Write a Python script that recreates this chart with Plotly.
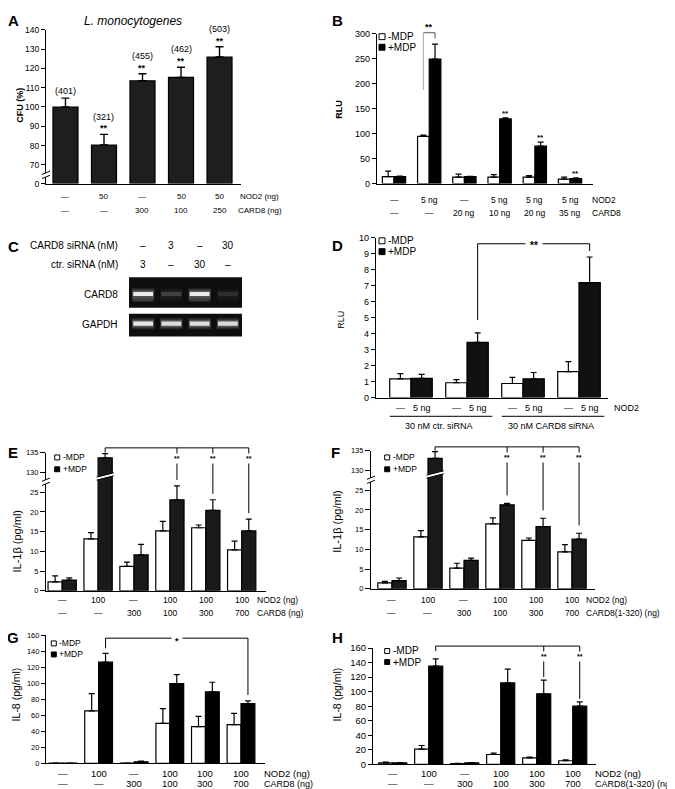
import plotly.graph_objects as go

# ===================== DATA =====================
# Panel A - L. monocytogenes CFU (%)
A_cfu = [100.0, 80.3, 113.6, 115.3, 125.9]
A_cfu_err = [4.6, 5.5, 3.6, 5.3, 5.3]
A_counts = ["(401)", "(321)", "(455)", "(462)", "(503)"]
A_sig = ["", "**", "**", "**", "**"]
A_nod2 = ["—", "50", "—", "50", "50"]
A_card8 = ["—", "—", "300", "100", "250"]
A_ticks = [0, 70, 80, 90, 100, 110, 120, 130, 140]

# Panel B - NF-kB reporter (RLU)
B_minus = [14, 94.7, 13, 13, 13, 9]
B_minus_err = [11, 2.5, 6, 5, 3, 4]
B_plus = [14, 249, 14, 129.5, 75, 10]
B_plus_err = [1, 30, 0.5, 2, 8, 1.5]
B_sig = ["", "", "", "**", "**", "**"]
B_nod2 = ["—", "5 ng", "—", "5 ng", "5 ng", "5 ng"]
B_card8 = ["—", "—", "20 ng", "10 ng", "20 ng", "35 ng"]
B_ticks = [0, 50, 100, 150, 200, 250, 300]

# Panel C - RT-PCR gel
C_card8_sirna = ["–", "3", "–", "30"]
C_ctr_sirna = ["3", "–", "30", "–"]
C_card8_band = [0.95, 0.22, 0.95, 0.14]
C_card8_lower = [0.35, 0.06, 0.32, 0.05]
C_gapdh_band = [0.92, 0.88, 0.9, 0.88]

# Panel D - RLU with siRNA
D_minus = [1.17, 0.93, 0.88, 1.63]
D_minus_err = [0.33, 0.19, 0.39, 0.62]
D_plus = [1.2, 3.45, 1.18, 7.2]
D_plus_err = [0.25, 0.6, 0.39, 1.6]
D_nod2 = ["—", "5 ng", "—", "5 ng", "—", "5 ng", "—", "5 ng"]
D_sirna = ["30 nM ctr. siRNA", "30 nM CARD8 siRNA"]
D_ticks = [0, 1, 2, 3, 4, 5, 6, 7, 8, 9, 10]

# Panel E - IL-1b, CARD8
E_minus = [2.25, 13.2, 6.2, 15.2, 16.0, 10.4]
E_minus_err = [1.55, 1.55, 1.1, 2.4, 0.7, 2.2]
E_plus = [2.75, 133.75, 9.1, 23.1, 20.4, 15.2]
E_plus_err = [0.55, 1.05, 2.7, 3.5, 2.7, 3.0]
E_nod2 = ["—", "100", "—", "100", "100", "100"]
E_card8 = ["—", "—", "300", "100", "300", "700"]

# Panel F - IL-1b, CARD8(1-320)
F_minus = [1.5, 13.2, 5.25, 16.5, 12.3, 9.4]
F_minus_err = [0.4, 1.55, 1.25, 1.5, 0.6, 1.8]
F_plus = [2.1, 133.1, 7.2, 21.3, 15.8, 12.6]
F_plus_err = [0.65, 1.7, 0.6, 0.4, 2.1, 1.5]
F_nod2 = ["—", "100", "—", "100", "100", "100"]
F_card8 = ["—", "—", "300", "100", "300", "700"]
IL1_ticks = [0, 5, 10, 15, 20, 25, 130, 135]

# Panel G - IL-8, CARD8
G_minus = [0.3, 65.6, 0.5, 50, 46, 48.4]
G_minus_err = [0, 21.4, 0, 18.5, 12.7, 14]
G_plus = [0.3, 126.4, 2, 99.7, 89.4, 74.7]
G_plus_err = [0, 11, 1, 11.1, 11.9, 3.3]
G_nod2 = ["—", "100", "—", "100", "100", "100"]
G_card8 = ["—", "—", "300", "100", "300", "700"]

# Panel H - IL-8, CARD8(1-320)
H_minus = [2, 21, 1, 13.6, 9, 5]
H_minus_err = [1, 5, 0.5, 2, 1, 1.2]
H_plus = [2, 135, 2, 112, 97, 80]
H_plus_err = [0.5, 10, 0.5, 19, 19, 6]
H_nod2 = ["—", "100", "—", "100", "100", "100"]
H_card8 = ["—", "—", "300", "100", "300", "700"]
IL8_ticks = [0, 20, 40, 60, 80, 100, 120, 140, 160]

# ===================== HELPERS =====================
W, H = 675, 789
FONT = "Liberation Sans, Arial, Helvetica, sans-serif"

fig = go.Figure()
layout_axes = {}
shapes = []
annots = []


def fx(x):
    return x / W


def fy(y):
    return 1 - y / H


class Panel:
    def __init__(self, n, left, top, right, bottom, xr, yr):
        self.n = n
        self.left, self.top, self.right, self.bottom = left, top, right, bottom
        self.xr, self.yr = xr, yr
        s = "" if n == 1 else str(n)
        self.s = s
        self.xa, self.ya = "x" + s, "y" + s

    def xp(self, v):
        return self.left + (v - self.xr[0]) / (self.xr[1] - self.xr[0]) * (self.right - self.left)

    def yp(self, v):
        return self.bottom - (v - self.yr[0]) / (self.yr[1] - self.yr[0]) * (self.bottom - self.top)


def setup_axes(p, tickvals=None, ticktext=None, tsize=8, ticklen=4, visible=True):
    xa = dict(domain=[fx(p.left), fx(p.right)], range=list(p.xr), anchor=p.ya,
              showline=visible, linecolor="black", linewidth=1.2, ticks="",
              showticklabels=False, showgrid=False, zeroline=False, fixedrange=True)
    ya = dict(domain=[fy(p.bottom), fy(p.top)], range=list(p.yr), anchor=p.xa,
              showline=visible, linecolor="black", linewidth=1.2, showgrid=False,
              zeroline=False, fixedrange=True)
    if visible:
        ya.update(ticks="outside", ticklen=ticklen, tickwidth=1, tickcolor="black",
                  tickmode="array", tickvals=tickvals, ticktext=ticktext,
                  tickfont=dict(family=FONT, size=tsize, color="black"))
    else:
        ya.update(ticks="", showticklabels=False)
    layout_axes["xaxis" + p.s] = xa
    layout_axes["yaxis" + p.s] = ya


def bars(p, xs, vals, errs, fill, bw, tf=lambda v: v, lw=1.2, capw=3, thick=1.2):
    dv = [tf(v) for v in vals]
    de = [tf(v + e) - tf(v) for v, e in zip(vals, errs)]
    fig.add_trace(go.Bar(
        x=xs, y=dv, width=bw,
        marker=dict(color=fill, line=dict(color="black", width=lw)),
        error_y=dict(type="data", symmetric=False, array=de, arrayminus=[0] * len(dv),
                     color="black", thickness=thick, width=capw),
        xaxis=p.xa, yaxis=p.ya, showlegend=False, hoverinfo="skip"))


def line(x0, y0, x1, y1, color="black", width=1):
    shapes.append(dict(type="line", xref="paper", yref="paper", x0=fx(x0), y0=fy(y0),
                       x1=fx(x1), y1=fy(y1), line=dict(color=color, width=width)))


def rect(x0, y0, x1, y1, fill, lc=None, lw=0, layer="above"):
    shapes.append(dict(type="rect", xref="paper", yref="paper", x0=fx(x0), y0=fy(y0),
                       x1=fx(x1), y1=fy(y1), fillcolor=fill, layer=layer,
                       line=dict(color=lc if lc else fill, width=lw)))


def poly(points, fill):
    d = "M " + " L ".join(f"{fx(x):.6f},{fy(y):.6f}" for x, y in points) + " Z"
    shapes.append(dict(type="path", xref="paper", yref="paper", path=d, fillcolor=fill,
                       line=dict(color="rgba(0,0,0,0)", width=0)))


def text(x, y, s, size=9, xanchor="center", angle=0, bg=None, pad=0, color="black"):
    a = dict(xref="paper", yref="paper", x=fx(x), y=fy(y), text=s, showarrow=False,
             xanchor=xanchor, yanchor="middle", textangle=angle, borderpad=pad,
             font=dict(family=FONT, size=size, color=color))
    if bg:
        a["bgcolor"] = bg
    annots.append(a)


def star(x, y_vis, s, size=9, bg=None, pad=0):
    # asterisks sit high in the line box; shift so that glyphs appear at y_vis
    text(x, y_vis + 0.22 * size, f"<b>{s}</b>", size, bg=bg, pad=pad)


def legend(x, y1, y2, sq, size):
    rect(x, y1 - sq / 2, x + sq, y1 + sq / 2, "white", "black", 1)
    rect(x, y2 - sq / 2, x + sq, y2 + sq / 2, "black", "black", 1)
    text(x + sq + 2, y1, "-MDP", size, xanchor="left")
    text(x + sq + 2, y2, "+MDP", size, xanchor="left")


def axis_break(x, y):
    poly([(x - 4, y - 0.3), (x + 4, y - 3.6), (x + 4, y + 0.6), (x - 4, y + 3.9)], "white")
    line(x - 4, y - 0.3, x + 4, y - 3.6, "black", 1)
    line(x - 4, y + 3.9, x + 4, y + 0.6, "black", 1)


def bar_break(p, xc, bw, yv):
    xl = p.xp(xc - bw / 2) - 1.5
    xr = p.xp(xc + bw / 2) + 1.5
    yc = p.yp(yv)
    poly([(xl, yc + 2.2 - 1.5), (xr, yc - 2.2 - 1.5), (xr, yc - 2.2 + 1.5), (xl, yc + 2.2 + 1.5)], "white")
    line(xl, yc + 2.2 - 1.5, xr, yc - 2.2 - 1.5, "black", 1)
    line(xl, yc + 2.2 + 1.5, xr, yc - 2.2 + 1.5, "black", 1)


# ===================== PANEL A =====================
A_GAP = 9.7


def tfA(v):
    return v - 70 + A_GAP if v >= 70 else v * A_GAP / 70


pA = Panel(1, 38, 16, 233, 172, (-0.506, 4.558), (0, 79.7))
setup_axes(pA, [tfA(t) for t in A_ticks], [str(t) for t in A_ticks], 8.5)
xsA = list(range(len(A_cfu)))
bars(pA, xsA, A_cfu, A_cfu_err, "#1e1e1e", 0.65, tf=tfA, capw=4, thick=1.4)
axis_break(38, 163)
for i in xsA:
    etop = pA.yp(tfA(A_cfu[i] + A_cfu_err[i]))
    if A_sig[i]:
        star(pA.xp(i), etop - 8, A_sig[i], 9)
        text(pA.xp(i), etop - 18, A_counts[i], 9)
    else:
        text(pA.xp(i), etop - 7, A_counts[i], 9)
    text(pA.xp(i), 185, A_nod2[i], 8)
    text(pA.xp(i), 199, A_card8[i], 8)
text(231, 185, "NOD2 (ng)", 8, xanchor="left")
text(229, 199, "CARD8 (ng)", 8, xanchor="left")
text(125, 7, "<i>L. monocytogenes</i>", 12)
text(12, 93, "<b>CFU (%)</b>", 9, angle=-90)

# ===================== PANEL B =====================
pB = Panel(2, 369, 20, 585, 172, (-0.483, 5.653), (0, 300))
setup_axes(pB, B_ticks, [str(t) for t in B_ticks], 9)
offB, bwB = 0.166, 0.33
nB = len(B_minus)
bars(pB, [i - offB for i in range(nB)], B_minus, B_minus_err, "white", bwB)
bars(pB, [i + offB for i in range(nB)], B_plus, B_plus_err, "black", bwB)
for i in range(nB):
    if B_sig[i]:
        star(pB.xp(i + offB), pB.yp(B_plus[i] + B_plus_err[i]) - 6, B_sig[i], 8)
    text(pB.xp(i), 189, B_nod2[i], 8.5)
    text(pB.xp(i), 202, B_card8[i], 8.5)
text(583, 189, "NOD2", 8.5, xanchor="left")
text(583, 202, "CARD8", 8.5, xanchor="left")
xl, xr = pB.xp(1 - offB), pB.xp(1 + offB)
line(xl, 19, xr, 19, "#555", 1)
line(xl, 19, xl, 77, "#aaa", 1)
line(xr, 19, xr, 25, "#555", 1)
star((xl + xr) / 2, 11, "**", 9)
legend(371, 23, 33.7, 6, 10)
text(331, 97, "<b>RLU</b>", 9, angle=-90)

# ===================== PANEL C (gel) =====================
g1 = Panel(8, 121, 267, 234, 298, (-0.5, 3.5), (0, 1))
g2 = Panel(9, 121, 304, 234, 327, (-0.5, 3.5), (0, 1))
setup_axes(g1, visible=False)
setup_axes(g2, visible=False)
rect(121, 267, 234, 298, "#0e0e0e", layer="below")
rect(121, 304, 234, 327, "#0e0e0e", layer="below")
lanes = list(range(4))


def gel_band(p, intens, center, height, width, gain):
    cols = []
    for v in intens:
        g = int(min(255, 14 + 241 * gain * v))
        cols.append(f"rgb({g},{g},{g})")
    fig.add_trace(go.Bar(x=lanes, y=[height] * 4, base=[center - height / 2] * 4, width=width,
                         marker=dict(color=cols, line=dict(width=0)),
                         xaxis=p.xa, yaxis=p.ya, showlegend=False, hoverinfo="skip"))


gel_band(g1, C_card8_band, 0.43, 0.42, 0.8, 0.12)
gel_band(g1, C_card8_band, 0.44, 0.28, 0.76, 0.3)
gel_band(g1, C_card8_lower, 0.26, 0.1, 0.7, 0.6)
gel_band(g1, C_card8_band, 0.45, 0.13, 0.7, 0.97)
gel_band(g2, C_gapdh_band, 0.565, 0.5, 0.8, 0.12)
gel_band(g2, C_gapdh_band, 0.565, 0.34, 0.76, 0.32)
gel_band(g2, C_gapdh_band, 0.565, 0.18, 0.7, 0.97)
text(111, 235, "CARD8 siRNA (nM)", 10, xanchor="right")
text(111, 254, "ctr. siRNA (nM)", 10, xanchor="right")
for i in lanes:
    text(g1.xp(i), 235, C_card8_sirna[i], 10)
    text(g1.xp(i), 254, C_ctr_sirna[i], 10)
text(111, 284, "CARD8", 10, xanchor="right")
text(111, 315, "GAPDH", 10, xanchor="right")

# ===================== PANEL D =====================
pD = Panel(3, 368, 227, 600, 389, (-0.625, 3.518), (0, 10))
setup_axes(pD, D_ticks, [str(t) for t in D_ticks], 9)
offD, bwD = 0.19, 0.38
nD = len(D_minus)
bars(pD, [i - offD for i in range(nD)], D_minus, D_minus_err, "white", bwD)
bars(pD, [i + offD for i in range(nD)], D_plus, D_plus_err, "#111111", bwD)
for i in range(nD):
    text(pD.xp(i - offD), 400, D_nod2[2 * i], 9)
    text(pD.xp(i + offD), 400, D_nod2[2 * i + 1], 9)
text(605, 400, "NOD2", 9, xanchor="left")
for k in range(2):
    a, b = 2 * k, 2 * k + 1
    line(pD.xp(a - offD - bwD / 2), 408, pD.xp(b + offD + bwD / 2) + 4, 408, "black", 1)
    text(pD.xp(a + 0.5), 418, D_sirna[k], 9)
xl, xr = pD.xp(1 + offD), pD.xp(3 + offD)
ytop = 233
line(xl, ytop, xr, ytop)
line(xl, ytop, xl, pD.yp(D_plus[1] + D_plus_err[1]) - 13)
line(xr, ytop, xr, pD.yp(D_plus[3] + D_plus_err[3]) - 6)
star((xl + xr) / 2, ytop, "**", 10, bg="white", pad=4)
legend(371, 230, 241, 6, 10)
text(333, 310, "RLU", 9, angle=-90)


# ===================== PANELS E / F (broken IL-1b axis) =====================
def tfIL1(v):
    return v - 100 if v > 27.5 else v


def il1_panel(n, left, top, right, bottom, xr, minus, minus_err, plus, plus_err,
              nod2, card8, card_label, ytitle_x, ytitle_y, bartop_y, leg_x, stop_gap):
    p = Panel(n, left, top, right, bottom, xr, (0, 35))
    setup_axes(p, [tfIL1(t) for t in IL1_ticks], [str(t) for t in IL1_ticks], 7.5, ticklen=5)
    off, bw = 0.197, 0.394
    m = len(minus)
    bars(p, [i - off for i in range(m)], minus, minus_err, "white", bw, tf=tfIL1)
    bars(p, [i + off for i in range(m)], plus, plus_err, "#1a1a1a", bw, tf=tfIL1)
    axis_break(left, p.yp(27.7))
    bar_break(p, 1 + off, bw, 29.0)
    # bracket
    xl = p.xp(1 + off)
    line(xl, bartop_y, p.xp(m - 1 + off), bartop_y)
    line(xl, bartop_y, xl, p.yp(tfIL1(plus[1] + plus_err[1])) - 1)
    for i in (3, 4, 5):
        x = p.xp(i + off)
        line(x, bartop_y, x, p.yp(tfIL1(plus[i] + plus_err[i])) - stop_gap)
        star(x, bartop_y + 9, "**", 7, bg="white", pad=1)
    legend(leg_x, 449.7, 461.7, 5, 8.5)
    for i in range(m):
        text(p.xp(i), 594, nod2[i], 8.5)
        text(p.xp(i), 607, card8[i], 8.5)
    text(p.right - 10, 594, "NOD2 (ng)", 8.5, xanchor="left")
    text(p.right - 10, 607, card_label, 8.5, xanchor="left")
    text(ytitle_x, ytitle_y, "IL-1β (pg/ml)", 11, angle=-90)
    return p


pE = il1_panel(4, 38, 445, 258, 585, (-0.451, 5.677), E_minus, E_minus_err, E_plus, E_plus_err,
               E_nod2, E_card8, "CARD8 (ng)", 9, 535, 440, 46.7, 6)
pF = il1_panel(5, 363, 443, 587, 583, (-0.583, 5.639), F_minus, F_minus_err, F_plus, F_plus_err,
               F_nod2, F_card8, "CARD8(1-320) (ng)", 329, 515, 439, 376.7, 8)


# ===================== PANELS G / H (IL-8) =====================
def il8_panel(n, left, top, right, bottom, xr, minus, minus_err, plus, plus_err, nod2, card8,
              card_label, tsize, ytitle_x, leg_x, leg_y, leg_size, bracket):
    p = Panel(n, left, top, right, bottom, xr, (0, 160))
    setup_axes(p, IL8_ticks, [str(t) for t in IL8_ticks], tsize)
    off, bw = 0.195, 0.39
    m = len(minus)
    bars(p, [i - off for i in range(m)], minus, minus_err, "white", bw)
    bars(p, [i + off for i in range(m)], plus, plus_err, "black", bw)
    legend(leg_x, leg_y, leg_y + 11.2, 5, leg_size)
    for i in range(m):
        text(p.xp(i), 770, nod2[i], 9.5)
        text(p.xp(i), 780.5, card8[i], 9.5)
    text(p.right - 2, 770, "NOD2 (ng)", 9.5, xanchor="left")
    text(p.right - 2, 780.5, card_label, 9, xanchor="left")
    text(ytitle_x, 690, "IL-8 (pg/ml)", 10.5, angle=-90)
    bracket(p, off)
    return p


def bracket_G(p, off):
    top = 633
    xl, xr = p.xp(1 + off), p.xp(5 + off)
    line(xl, top, xr, top)
    line(xl, top, xl, p.yp(G_plus[1] + G_plus_err[1]) - 5)
    line(xr, top, xr, p.yp(G_plus[5] + G_plus_err[5]) - 6)
    star((xl + xr) / 2, top + 1, "*", 9, bg="white", pad=3)


def bracket_H(p, off):
    top = 641
    xl, xr = p.xp(1 + off), p.xp(5 + off)
    line(xl, top, xr, top)
    line(xl, top, xl, p.yp(H_plus[1] + H_plus_err[1]) - 8)
    for i in (4, 5):
        x = p.xp(i + off)
        line(x, top, x, p.yp(H_plus[i] + H_plus_err[i]) - 3)
        star(x, 650, "**", 7, bg="white", pad=1)


pG = il8_panel(6, 38, 630, 257, 760, (-0.478, 5.674), G_minus, G_minus_err, G_plus, G_plus_err,
               G_nod2, G_card8, "CARD8 (ng)", 7.5, 8, 43.3, 638.3, 8.5, bracket_G)
pH = il8_panel(7, 365, 643, 588, 761, (-0.547, 5.647), H_minus, H_minus_err, H_plus, H_plus_err,
               H_nod2, H_card8, "CARD8(1-320) (ng)", 9.5, 329, 376.7, 646, 10, bracket_H)

# ===================== PANEL LETTERS =====================
for letter, x, y in [("A", 5, 7), ("B", 329, 7), ("C", 5, 236), ("D", 329, 235),
                     ("E", 5, 445), ("F", 327, 445), ("G", 5, 632), ("H", 329, 632)]:
    text(x, y, f"<b>{letter}</b>", 15)

fig.update_layout(
    width=W, height=H, autosize=False,
    margin=dict(l=0, r=0, t=0, b=0),
    paper_bgcolor="white", plot_bgcolor="rgba(0,0,0,0)",
    barmode="overlay", showlegend=False,
    font=dict(family=FONT, color="black"),
    shapes=shapes, annotations=annots,
    **layout_axes,
)
fig.write_html("out.html")
